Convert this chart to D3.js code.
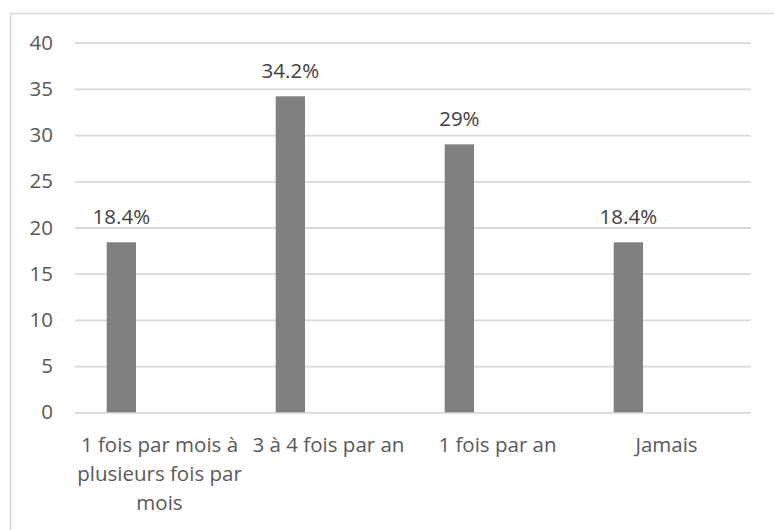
<!DOCTYPE html>
<html>
<head>
<meta charset="utf-8">
<script src="https://cdn.jsdelivr.net/npm/d3@7"></script>
<style>
  html, body { margin: 0; padding: 0; background: #fff; }
  svg { display: block; font-family: "Open Sans", "Noto Sans", sans-serif; }
</style>
</head>
<body>
<svg id="chart" width="774" height="530"></svg>
<script>
const categories = ["1 fois par mois à plusieurs fois par mois", "3 à 4 fois par an", "1 fois par an", "Jamais"];
const values = [18.4, 34.2, 29, 18.4];
const valueLabels = ["18.4%", "34.2%", "29%", "18.4%"];
const yTicks = [0, 5, 10, 15, 20, 25, 30, 35, 40];

const svg = d3.select("#chart");
const W = 774, H = 530;
const plot = { left: 75, right: 751, top: 42.7, bottom: 412.3 };

// outer frame
svg.append("rect")
  .attr("x", 10.5).attr("y", 13.5)
  .attr("width", 800).attr("height", 560)
  .attr("fill", "none").attr("stroke", "#d9d9d9").attr("stroke-width", 1.5);

const x = d3.scaleBand().domain(categories).range([plot.left, plot.right]).padding(0);
const y = d3.scaleLinear().domain([0, 40]).range([plot.bottom, plot.top]);

// gridlines + y labels
const yAxis = d3.axisLeft(y).tickValues(yTicks).tickSize(-(plot.right - plot.left)).tickPadding(22);
const gy = svg.append("g").attr("transform", `translate(${plot.left},0)`).call(yAxis);
gy.select(".domain").remove();
gy.selectAll(".tick line").attr("stroke", "#d9d9d9").attr("stroke-width", 1.8);
gy.selectAll(".tick text")
  .attr("fill", "#595959").attr("font-size", "20.5px")
  .attr("font-family", "'Open Sans', 'Noto Sans', sans-serif");

// bars
const barOffset = 0.1876, barFrac = 0.1734;
const bw = x.bandwidth() * barFrac;
svg.append("g").selectAll("rect").data(values).join("rect")
  .attr("x", (d, i) => x(categories[i]) + x.bandwidth() * barOffset)
  .attr("y", d => y(d))
  .attr("width", bw)
  .attr("height", d => y(0) - y(d))
  .attr("fill", "#808080");

// value labels
svg.append("g").selectAll("text").data(values).join("text")
  .attr("x", (d, i) => x(categories[i]) + x.bandwidth() * barOffset + bw / 2)
  .attr("y", d => y(d) - 18)
  .attr("text-anchor", "middle")
  .attr("font-size", "20.5px")
  .attr("fill", "#404040")
  .text((d, i) => valueLabels[i]);

// category labels with wrapping
const lineH = 29;
const gx = svg.append("g");
categories.forEach(c => {
  const t = gx.append("text")
    .attr("x", x(c) + x.bandwidth() / 2)
    .attr("y", plot.bottom + 39.4)
    .attr("text-anchor", "middle")
    .attr("font-size", "20.5px")
    .attr("fill", "#595959");
  const words = c.split(" ");
  let line = [];
  let lineNo = 0;
  let tspan = t.append("tspan").attr("x", x(c) + x.bandwidth() / 2).attr("dy", 0);
  words.forEach(w => {
    line.push(w);
    tspan.text(line.join(" "));
    if (tspan.node().getComputedTextLength() > x.bandwidth() - 2 && line.length > 1) {
      line.pop();
      tspan.text(line.join(" "));
      line = [w];
      lineNo++;
      tspan = t.append("tspan").attr("x", x(c) + x.bandwidth() / 2).attr("dy", lineH).text(w);
    }
  });
});
</script>
</body>
</html>
